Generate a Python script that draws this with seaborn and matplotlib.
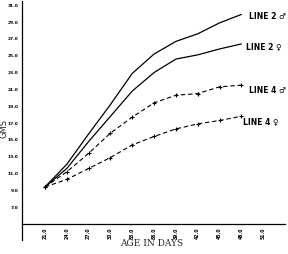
import numpy as np
import pandas as pd
import matplotlib
matplotlib.use("Agg")
import matplotlib.pyplot as plt
import seaborn as sns

# age in days and body weight (gms)
days = [21, 24, 27, 30, 33, 36, 39, 42, 45, 48]
line2_male = [9.4, 12.1, 15.7, 19.2, 22.9, 25.2, 26.7, 27.6, 28.9, 29.9]
line2_female = [9.4, 11.6, 14.8, 17.8, 20.8, 23.0, 24.6, 25.1, 25.8, 26.4]
line4_male = [9.4, 11.2, 13.4, 15.8, 17.7, 19.4, 20.3, 20.5, 21.3, 21.5]
line4_female = [9.4, 10.3, 11.6, 12.9, 14.4, 15.4, 16.3, 16.9, 17.3, 17.8]

xticks = [21, 24, 27, 30, 33, 36, 39, 42, 45, 48, 51]
xtick_labels = ["21.0", "24.0", "27.0", "30.0", "33.0", "36.0", "39.0", "42.0", "45.0", "48.0", "51.0"]
yticks = [7, 9, 11, 13, 15, 17, 19, 21, 23, 25, 27, 29, 31]
ytick_labels = ["7.0", "9.0", "11.0", "13.0", "15.0", "17.0", "19.0", "21.0",
                "23.0", "25.0", "27.0", "29.0", "31.0"]

series = {
    "LINE 2 \u2642": line2_male,
    "LINE 2 \u2640": line2_female,
    "LINE 4 \u2642": line4_male,
    "LINE 4 \u2640": line4_female,
}

sns.set_style("white")

fig = plt.figure(figsize=(2.88, 2.54), dpi=100)
ax = fig.add_axes([22 / 288, 14 / 254, 263 / 288, 239 / 254])

for name, vals in series.items():
    df = pd.DataFrame({"Age": days, "GMS": vals})
    if name.startswith("LINE 4"):
        sns.lineplot(ax=ax, data=df, x="Age", y="GMS", color="black", lw=0.8,
                     linestyle=(0, (4, 2.5)), marker="+", markersize=3.5,
                     markeredgewidth=0.8, markeredgecolor="black")
    else:
        sns.lineplot(ax=ax, data=df, x="Age", y="GMS", color="black", lw=0.9)

# labels at the line ends
offs = {"LINE 2 \u2642": (1.0, -0.3), "LINE 2 \u2640": (0.6, -0.4),
        "LINE 4 \u2642": (1.0, -0.6), "LINE 4 \u2640": (0.2, -0.7)}
for name, vals in series.items():
    dx, dy = offs[name]
    ax.text(days[-1] + dx, vals[-1] + dy, name, fontsize=5.5, fontweight="bold",
            ha="left", va="center", color="black")

ax.set_xlim(17.84, 54)
ax.set_ylim(3.1, 31.5)

ax.spines["top"].set_visible(False)
ax.spines["right"].set_visible(False)
ax.spines["bottom"].set_position(("data", 5))
for s in ["left", "bottom"]:
    ax.spines[s].set_color("black")
    ax.spines[s].set_linewidth(0.9)

ax.set_xticks(xticks)
ax.set_xticklabels(xtick_labels, rotation=90, fontsize=3.3, fontweight="bold")
ax.set_yticks(yticks)
ax.set_yticklabels(ytick_labels, fontsize=3.2, fontweight="bold")
ax.tick_params(axis="x", direction="inout", length=4, width=0.8, pad=0.5, colors="black")
ax.tick_params(axis="y", direction="out", length=2, width=0.8, pad=0.5, colors="black")

ax.set_xlabel(None)
ax.set_ylabel(None)
fig.text(4.5 / 288, 1 - 128 / 254, "GMS", rotation=90, fontsize=6,
         ha="center", va="center")
fig.text(152 / 288, 1 - 244 / 254, "AGE IN DAYS", fontsize=6.5,
         family="DejaVu Serif", ha="center", va="center")

fig.savefig("out.png", dpi=100)
